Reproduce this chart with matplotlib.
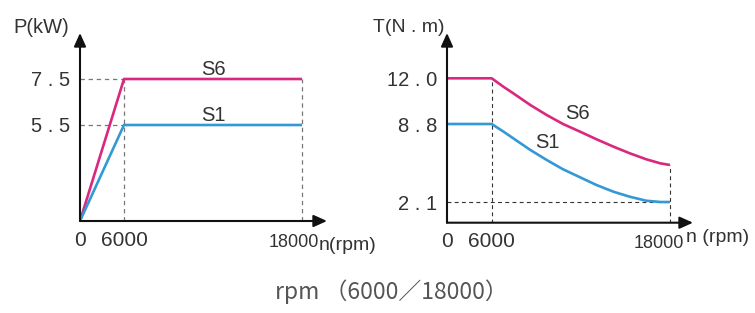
import numpy as np
import matplotlib
matplotlib.use("Agg")
import matplotlib.pyplot as plt
from matplotlib.transforms import ScaledTranslation

plt.rcParams['font.family'] = ['Liberation Sans', 'DejaVu Sans']

# ---- data ----
rpm_p = [0, 6000, 18000]
p_s6 = [0, 7.5, 7.5]
p_s1 = [0, 5.5, 5.5]

rpm_t = [0, 6000, 6800, 7450, 8600, 9700, 10800, 11950, 13050, 14200, 15300, 16400, 17350, 18000]
t_s6 = [12.0, 12.0, 11.4, 10.95, 10.13, 9.43, 8.8, 8.14, 7.49, 6.85, 6.28, 5.77, 5.42, 5.28]
t_s1 = [8.8, 8.8, 8.14, 7.57, 6.57, 5.71, 4.91, 4.22, 3.56, 2.98, 2.55, 2.21, 2.1, 2.1]

p_ticks = [5.5, 7.5]
p_ticklabels = ['5 . 5', '7 . 5']
t_ticks = [2.1, 8.8, 12.0]
t_ticklabels = ['2 . 1', '8 . 8', '12 . 0']
rpm_ticks = [0, 6000, 18000]
rpm_ticklabels = ['0', '6000', '18000']

C_S6 = '#d9287e'
C_S1 = '#3399d6'
TXT = '#333333'
W, H = 755, 313


def piecewise(vals, pix):
    # schematic axis: value -> pixels from origin, linear between knots
    v = np.asarray(vals, float)
    p = np.asarray(pix, float)
    s_lo = (p[1] - p[0]) / (v[1] - v[0])
    s_hi = (p[-1] - p[-2]) / (v[-1] - v[-2])

    def fwd(x):
        x = np.asarray(x, float)
        return np.where(x < v[0], p[0] + (x - v[0]) * s_lo,
                        np.where(x > v[-1], p[-1] + (x - v[-1]) * s_hi, np.interp(x, v, p)))

    def inv(y):
        y = np.asarray(y, float)
        return np.where(y < p[0], v[0] + (y - p[0]) / s_lo,
                        np.where(y > p[-1], v[-1] + (y - p[-1]) / s_hi, np.interp(y, p, v)))
    return fwd, inv


def setup(ax, wpx, hpx, xknots, yknots, shift18):
    fx, ix = piecewise(*xknots)
    fy, iy = piecewise(*yknots)
    ax.set_xscale('function', functions=(fx, ix))
    ax.set_yscale('function', functions=(fy, iy))
    ax.set_xlim(0, float(ix(wpx)))
    ax.set_ylim(0, float(iy(hpx)))
    for s in ax.spines.values():
        s.set_visible(False)
    arrow = dict(arrowstyle='-|>,head_length=0.8,head_width=0.36', color='#111111',
                 lw=1.5, shrinkA=0, shrinkB=0)
    ax.annotate('', xy=(1, 0), xytext=(0, 0), xycoords='axes fraction', arrowprops=arrow)
    ax.annotate('', xy=(0, 1), xytext=(0, 0), xycoords='axes fraction', arrowprops=arrow)
    ax.tick_params(length=0, colors=TXT)
    ax.set_xticks(rpm_ticks, rpm_ticklabels)
    ax.tick_params(axis='x', pad=7)
    ax.tick_params(axis='y', pad=7)
    lbls = ax.get_xticklabels()
    for lb in lbls[:2]:
        lb.set_fontsize(15)
    lbls[2].set_fontsize(13)
    lbls[2].set_transform(lbls[2].get_transform() +
                          ScaledTranslation(shift18 / 100, -3 / 100, fig.dpi_scale_trans))
    ax.patch.set_visible(False)


fig = plt.figure(figsize=(W / 100, H / 100), dpi=100)

# left: power
ox, oy, wpx, hpx = 80, 221, 247, 188
ax1 = fig.add_axes([ox / W, (H - oy) / H, wpx / W, hpx / H])
setup(ax1, wpx, hpx, ([0, 6000, 18000], [0, 44, 222]), ([0, 5.5, 7.5], [0, 96, 142]), -8)
ax1.set_yticks(p_ticks, p_ticklabels, fontsize=14.5)
dash = dict(color='#777777', lw=0.9, ls=(0, (3.5, 3)))
ax1.plot([0, 6000], [7.5, 7.5], **dash)
ax1.plot([0, 6000], [5.5, 5.5], **dash)
ax1.plot([6000, 6000], [0, 7.5], **dash)
ax1.plot([18000, 18000], [0, 7.5], **dash)
ax1.plot(rpm_p, p_s6, color=C_S6, lw=1.9, solid_capstyle='butt')
ax1.plot(rpm_p, p_s1, color=C_S1, lw=1.9, solid_capstyle='butt')
ax1.text(12000, 7.5, 'S6', ha='center', va='bottom', fontsize=14.5, color=TXT)
ax1.text(12000, 5.5, 'S1', ha='center', va='bottom', fontsize=14.5, color=TXT)
ax1.text(-0.156, 1.03, 'P(kW)', transform=ax1.transAxes, ha='center', va='center',
         fontsize=14.5, color=TXT)
ax1.text(1.085, -0.128, 'n(rpm)', transform=ax1.transAxes, ha='center', va='center',
         fontsize=14, color=TXT)

# right: torque
ox, oy, wpx, hpx = 447, 222.7, 246, 189.7
ax2 = fig.add_axes([ox / W, (H - oy) / H, wpx / W, hpx / H])
setup(ax2, wpx, hpx, ([0, 6000, 18000], [0, 44.7, 223]),
      ([0, 2.1, 8.8, 12.0], [0, 20.7, 98.7, 144.4]), -11)
ax2.set_yticks(t_ticks, t_ticklabels, fontsize=14.5)
dash2 = dict(color='#333333', lw=0.8, ls=(0, (3.5, 3)))
ax2.plot([6000, 6000], [0, 12.0], **dash2)
ax2.plot([18000, 18000], [0, t_s6[-1]], **dash2)
ax2.plot([0, 18000], [2.1, 2.1], **dash2)
ax2.plot(rpm_t, t_s6, color=C_S6, lw=1.9, solid_capstyle='butt')
ax2.plot(rpm_t, t_s1, color=C_S1, lw=1.9, solid_capstyle='butt')
ax2.text(11780, 9.53, 'S6', ha='center', va='center', fontsize=14.5, color=TXT)
ax2.text(9720, 7.21, 'S1', ha='center', va='center', fontsize=14.5, color=TXT)
ax2.text(-0.154, 1.03, 'T(N . m)', transform=ax2.transAxes, ha='center', va='center',
         fontsize=14, color=TXT)
ax2.text(1.1, -0.08, 'n (rpm)', transform=ax2.transAxes, ha='center', va='center',
         fontsize=14, color=TXT)

fig.text(391 / W, (H - 292) / H, 'rpm （6000／18000）', ha='center', va='center',
         fontsize=16.5, color='#555555', family=['Noto Sans CJK SC', 'DejaVu Sans'])

fig.savefig('out.png', dpi=100)
